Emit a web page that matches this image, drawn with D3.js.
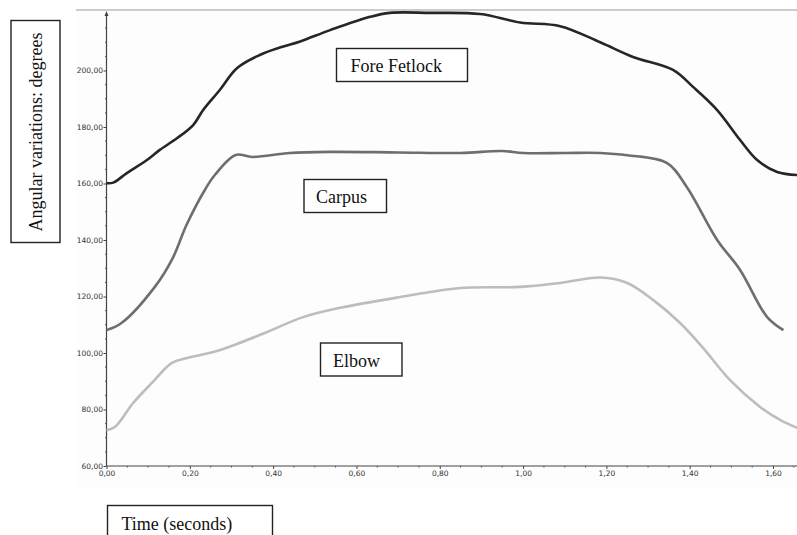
<!DOCTYPE html>
<html>
<head>
<meta charset="utf-8">
<script src="https://cdn.jsdelivr.net/npm/d3@7"></script>
<style>
  body { margin: 0; background: #fff; }
  svg { display: block; }
  .tick-label { font-family: "DejaVu Sans", Verdana, sans-serif; font-size: 7.5px; fill: #333; }
  .box-label { font-family: "Liberation Serif", "Times New Roman", serif; font-size: 18px; fill: #111; }
</style>
</head>
<body>
<div id="chart"></div>
<script>
// Series names
const seriesNames = ["Fore Fetlock", "Carpus", "Elbow"];

// Time (s) and angle (degrees)
const foreFetlockTime = [0.00, 0.016, 0.048, 0.097, 0.128, 0.169, 0.208, 0.232, 0.272, 0.313, 0.368, 0.42, 0.465, 0.537, 0.633, 0.68, 0.777, 0.897, 0.993, 1.089, 1.185, 1.264, 1.36, 1.408, 1.466, 1.521, 1.562, 1.61, 1.658];
const foreFetlockAngle = [160.1, 160.3, 163.6, 168.3, 171.9, 176.0, 180.7, 186.0, 193.1, 200.8, 205.5, 208.3, 210.3, 214.3, 219.0, 220.4, 220.4, 220.0, 217.0, 215.7, 210.0, 204.8, 200.2, 194.2, 186.0, 175.4, 168.3, 164.1, 163.0];

const carpusTime = [0.00, 0.036, 0.116, 0.159, 0.192, 0.236, 0.26, 0.31, 0.35, 0.44, 0.536, 0.70, 0.85, 0.95, 1.00, 1.10, 1.185, 1.25, 1.345, 1.393, 1.466, 1.521, 1.586, 1.625];
const carpusAngle = [108.1, 110.6, 123.4, 133.6, 145.3, 157.7, 163.0, 170.1, 169.4, 170.8, 171.2, 171.0, 170.8, 171.5, 170.8, 170.8, 170.8, 170.0, 167.3, 158.8, 140.0, 129.4, 112.7, 108.1];

const elbowTime = [0.00, 0.02, 0.064, 0.109, 0.157, 0.193, 0.265, 0.313, 0.385, 0.472, 0.561, 0.705, 0.849, 0.993, 1.089, 1.185, 1.25, 1.312, 1.377, 1.432, 1.497, 1.569, 1.617, 1.658];
const elbowAngle = [72.7, 73.8, 82.3, 89.4, 96.5, 98.2, 100.7, 103.2, 107.4, 112.7, 116.0, 119.8, 123.0, 123.4, 124.8, 126.7, 124.8, 118.8, 110.6, 101.8, 90.4, 80.9, 76.3, 73.5];

// Tick values
const xTicks = [0, 0.2, 0.4, 0.6, 0.8, 1.0, 1.2, 1.4, 1.6];
const yTicks = [60, 80, 100, 120, 140, 160, 180, 200];

const width = 797, height = 535;

const svg = d3.select("#chart").append("svg")
  .attr("width", width)
  .attr("height", height);

// Scales
const x = d3.scaleLinear().domain([0, 1.66]).range([106.5, 798]);
const y = d3.scaleLinear().domain([60, 220]).range([466, 14]);

const fmt = v => d3.format(".2f")(v).replace(".", ",");

// Faint plot background and top rule
svg.append("rect")
  .attr("x", 76).attr("y", 10)
  .attr("width", width - 76).attr("height", 478)
  .attr("fill", "#fdfdfd");
svg.append("line")
  .attr("x1", 76).attr("x2", width)
  .attr("y1", 10).attr("y2", 10)
  .attr("stroke", "#bbb")
  .attr("stroke-width", 1.5);

// Y axis
const yAxis = svg.append("g")
  .attr("transform", `translate(${x(0)},0)`)
  .call(d3.axisLeft(y).tickValues(yTicks).tickSize(3).tickFormat(fmt));
yAxis.select(".domain").remove();
yAxis.selectAll(".tick line").attr("stroke", "#444");
yAxis.selectAll(".tick text").attr("class", "tick-label").attr("x", -3.5);

// Y minor ticks
svg.append("g").selectAll("line")
  .data(d3.range(65, 220, 5).filter(v => v % 20 !== 0))
  .join("line")
  .attr("x1", x(0) - 1.5).attr("x2", x(0))
  .attr("y1", d => y(d)).attr("y2", d => y(d))
  .attr("stroke", "#555");

svg.append("line")
  .attr("x1", x(0)).attr("x2", x(0))
  .attr("y1", y(60)).attr("y2", 13)
  .attr("stroke", "#444")
  .attr("stroke-width", 1.2);
svg.append("path")
  .attr("d", `M${x(0)},11 L${x(0) - 2},16 L${x(0) + 2},16 Z`)
  .attr("fill", "#444");

// X axis
const xAxis = svg.append("g")
  .attr("transform", `translate(0,${y(60)})`)
  .call(d3.axisBottom(x).tickValues(xTicks).tickSize(3).tickFormat(fmt));
xAxis.select(".domain").remove();
xAxis.selectAll(".tick line").attr("stroke", "#444");
xAxis.selectAll(".tick text").attr("class", "tick-label").attr("y", 4.5);

svg.append("g").selectAll("line")
  .data(d3.range(0.05, 1.66, 0.05).filter(v => Math.abs(v / 0.2 - Math.round(v / 0.2)) > 0.01))
  .join("line")
  .attr("x1", d => x(d)).attr("x2", d => x(d))
  .attr("y1", y(60)).attr("y2", y(60) + 1.5)
  .attr("stroke", "#555");

svg.append("line")
  .attr("x1", x(0)).attr("x2", width)
  .attr("y1", y(60)).attr("y2", y(60))
  .attr("stroke", "#444")
  .attr("stroke-width", 1.2);

// Lines
const series = [
  { name: seriesNames[0], t: foreFetlockTime, v: foreFetlockAngle, color: "#262626" },
  { name: seriesNames[1], t: carpusTime, v: carpusAngle, color: "#6e6e6e" },
  { name: seriesNames[2], t: elbowTime, v: elbowAngle, color: "#bdbdbd" }
];

const line = d3.line()
  .x(d => x(d[0]))
  .y(d => y(d[1]))
  .curve(d3.curveCatmullRom.alpha(0.5));

svg.append("g").selectAll("path")
  .data(series)
  .join("path")
  .attr("d", s => line(s.t.map((t, i) => [t, s.v[i]])))
  .attr("fill", "none")
  .attr("stroke", s => s.color)
  .attr("stroke-width", 2.6)
  .attr("stroke-linejoin", "round");

// Boxed labels
function boxLabel(text, bx, by, bw, bh, tx, ty, rotate) {
  const g = svg.append("g");
  g.append("rect")
    .attr("x", bx).attr("y", by)
    .attr("width", bw).attr("height", bh)
    .attr("fill", "#fff")
    .attr("stroke", "#222")
    .attr("stroke-width", 1.4);
  const t = g.append("text")
    .attr("class", "box-label")
    .text(text);
  if (rotate) {
    t.attr("transform", `translate(${tx},${ty}) rotate(-90)`)
      .attr("text-anchor", "middle");
  } else {
    t.attr("x", tx).attr("y", ty);
  }
}

boxLabel(seriesNames[0], 336.5, 48.5, 131, 33, 350.5, 72);
boxLabel(seriesNames[1], 304, 179.5, 82.5, 33, 316, 202.5);
boxLabel(seriesNames[2], 320.5, 343, 81.5, 33, 333, 367);
boxLabel("Time (seconds)", 107.5, 505.5, 165, 40, 121.5, 530);
boxLabel("Angular variations: degrees", 11, 20.5, 49, 222, 42, 132, true);
</script>
</body>
</html>
